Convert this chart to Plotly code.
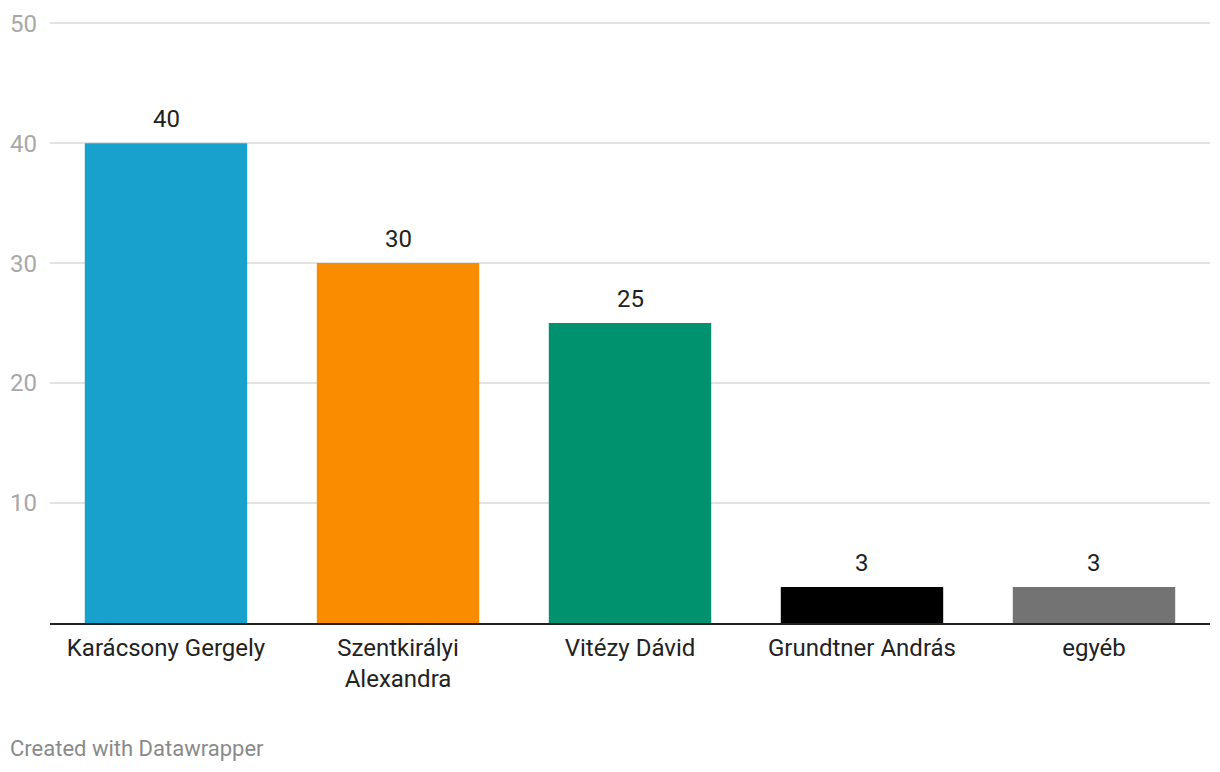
import plotly.graph_objects as go

categories = ["Karácsony Gergely", "Szentkirályi<br>Alexandra", "Vitézy Dávid", "Grundtner András", "egyéb"]
values = [40, 30, 25, 3, 3]
colors = ["#18a1cd", "#fa8c00", "#00926f", "#000000", "#737373"]
y_ticks = [10, 20, 30, 40, 50]

fig = go.Figure(go.Bar(
    x=categories, y=values, marker=dict(color=colors, line=dict(width=0)),
    width=0.7, hoverinfo="skip",
))

for c, v in zip(categories, values):
    fig.add_annotation(x=c, y=v, text=str(v), showarrow=False, yanchor="bottom",
                       yshift=8, font=dict(family="Roboto", size=24, color="#222222"))

fig.add_annotation(xref="paper", yref="paper", x=0, xshift=-42, y=0, yshift=-125,
                   xanchor="left", yanchor="middle", showarrow=False,
                   text="Created with Datawrapper",
                   font=dict(family="Roboto", size=22, color="#8a8a8a"))

fig.update_layout(
    width=1220, height=772,
    margin=dict(l=48, r=10, t=22, b=149),
    paper_bgcolor="white", plot_bgcolor="white",
    showlegend=False,
    font=dict(family="Roboto", color="#222222"),
    xaxis=dict(
        showgrid=False, showline=True, linecolor="#222222", linewidth=2,
        ticks="", tickfont=dict(size=24, color="#222222"), ticklabelstandoff=2,
    ),
    yaxis=dict(
        range=[0, 50.1], tickvals=y_ticks, showgrid=True, gridcolor="#e3e3e3", gridwidth=1.5,
        zeroline=False, showline=False, ticks="",
        tickfont=dict(size=24, color="#a8a8a8"), ticklabelstandoff=12,
    ),
)

fig.write_html("out.html", config={"displayModeBar": False},
               post_script="document.body.style.margin='0';document.body.style.overflow='hidden';")
